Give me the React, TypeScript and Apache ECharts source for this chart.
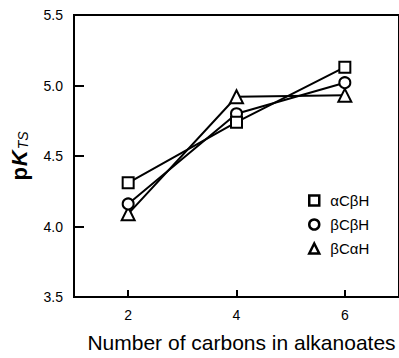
import React, { useEffect, useRef } from "react";
import * as echarts from "echarts";

const carbons = [2, 4, 6];
const seriesNames = ["αCβH", "βCβH", "βCαH"];
const alphaCbetaH = [4.31, 4.74, 5.13];
const betaCbetaH = [4.16, 4.8, 5.02];
const betaCalphaH = [4.09, 4.92, 4.93];
const symbols = ["rect", "circle", "triangle"];
const symbolSizes = [11, 11, 13];
const xTicks = [2, 4, 6];

export default function App() {
  const ref = useRef<HTMLDivElement>(null);
  useEffect(() => {
    if (!ref.current) return;
    const chart = echarts.init(ref.current, undefined, { renderer: "svg" });
    const values = [alphaCbetaH, betaCbetaH, betaCalphaH];
    const font = "Liberation Sans, Arial, Helvetica, sans-serif";
    chart.setOption({
      animation: false,
      textStyle: { fontFamily: font, color: "#000" },
      grid: {
        left: 73,
        top: 15,
        width: 330,
        height: 291,
        show: true,
        borderColor: "#000",
        borderWidth: 2,
        backgroundColor: "transparent",
      },
      legend: {
        orient: "vertical",
        left: 308,
        top: 193,
        padding: 0,
        itemWidth: 10,
        itemHeight: 10,
        itemGap: 9,
        textStyle: {
          fontSize: 15,
          color: "#000",
          fontFamily: font,
          padding: [0, 0, 0, 6],
        },
        itemStyle: { color: "#fff", borderColor: "#000", borderWidth: 2.5 },
        data: seriesNames.map((n, i) => ({ name: n, icon: symbols[i] })),
      },
      xAxis: {
        type: "value",
        min: 1,
        max: 7,
        name: "Number of carbons in alkanoates",
        nameLocation: "middle",
        nameGap: 35,
        nameTextStyle: {
          fontSize: 21,
          color: "#000",
          fontFamily: font,
          padding: [0, 0, 0, 10],
        },
        axisLine: { show: true, lineStyle: { color: "#000", width: 2 } },
        axisTick: {
          show: true,
          inside: true,
          length: 7,
          customValues: xTicks,
          lineStyle: { color: "#000", width: 2 },
        },
        axisLabel: {
          customValues: xTicks,
          fontSize: 14,
          color: "#000",
          margin: 11,
          fontFamily: font,
        },
        splitLine: { show: false },
      },
      yAxis: {
        type: "value",
        min: 3.5,
        max: 5.5,
        interval: 0.5,
        name: "{p|p}{k|K}{s|TS}",
        nameLocation: "middle",
        nameGap: 44,
        nameTextStyle: {
          color: "#000",
          fontFamily: font,
          rich: {
            p: { fontSize: 22, fontWeight: "bold", fontFamily: font, color: "#000" },
            k: {
              fontSize: 22,
              fontWeight: "bold",
              fontStyle: "italic",
              fontFamily: font,
              color: "#000",
              padding: [0, 1, 0, 1],
            },
            s: {
              fontSize: 14,
              fontStyle: "italic",
              fontFamily: font,
              color: "#000",
              verticalAlign: "bottom",
            },
          },
        },
        axisLine: { show: true, lineStyle: { color: "#000", width: 2 } },
        axisTick: {
          show: true,
          inside: true,
          length: 10,
          lineStyle: { color: "#000", width: 2 },
        },
        axisLabel: {
          fontSize: 14,
          color: "#000",
          margin: 11,
          fontFamily: font,
          formatter: (v: number) => v.toFixed(1),
        },
        splitLine: { show: false },
      },
      series: seriesNames.map((n, i) => ({
        name: n,
        type: "line",
        data: carbons.map((c, j) => [c, values[i][j]]),
        symbol: symbols[i],
        symbolSize: symbolSizes[i],
        showAllSymbol: true,
        lineStyle: { color: "#000", width: 2 },
        itemStyle: { color: "#fff", borderColor: "#000", borderWidth: 2 },
        emphasis: { disabled: true },
        z: 3 - i,
      })),
    });
    return () => chart.dispose();
  }, []);
  return (
    <div
      ref={ref}
      style={{ position: "fixed", left: 0, top: 0, width: 399, height: 358, background: "#fff" }}
    />
  );
}
